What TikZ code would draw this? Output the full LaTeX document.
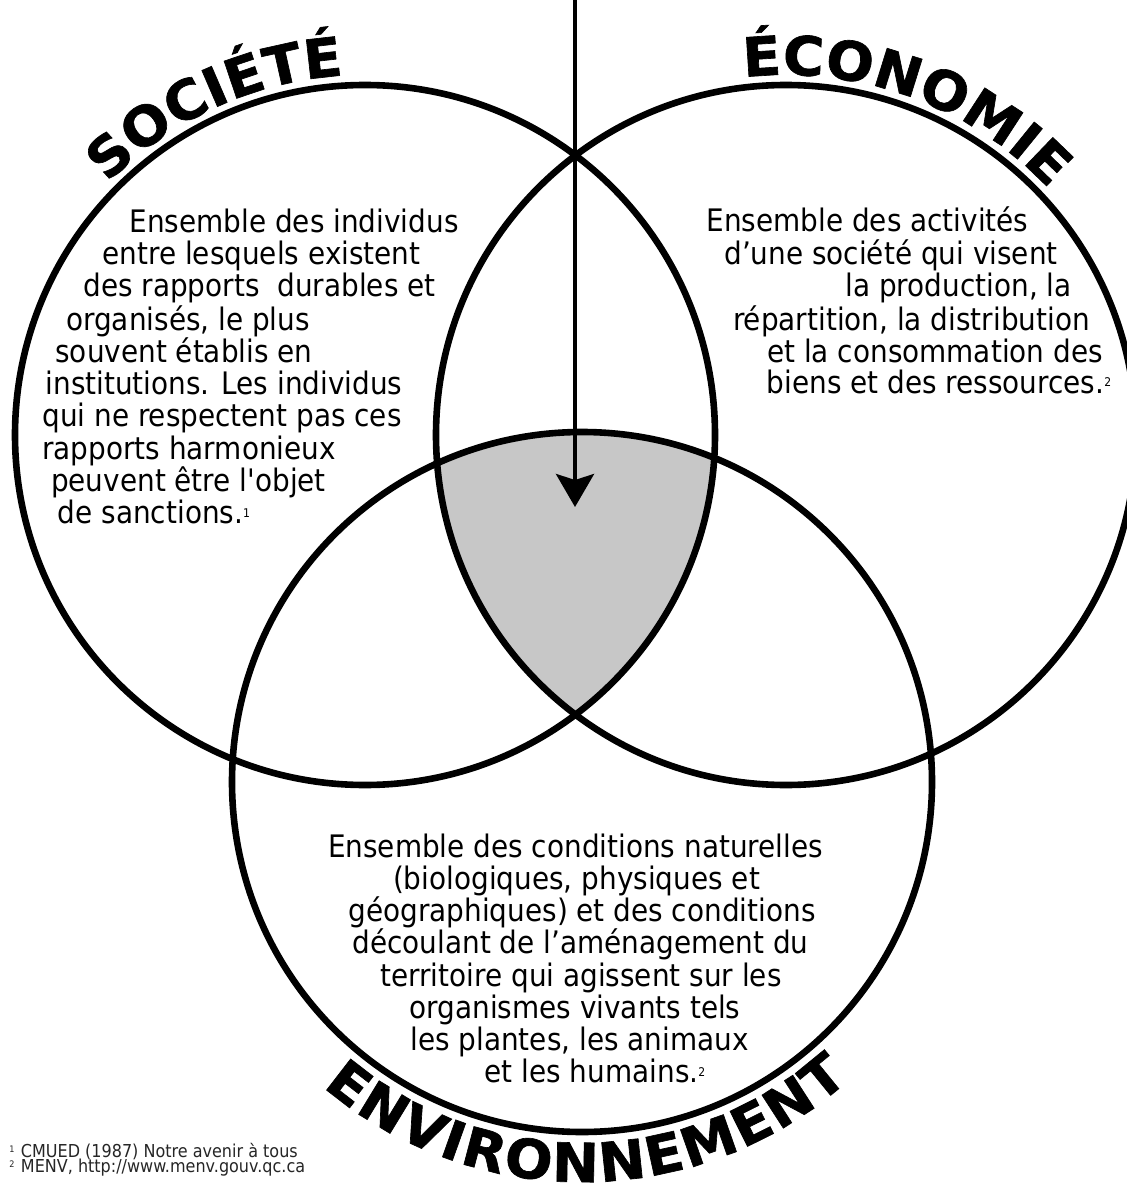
\documentclass[tikz,border=0pt]{standalone}
\usepackage{fontspec}
\usetikzlibrary{decorations.text,arrows.meta,calc}
\newfontfamily\bodyf[FakeStretch=0.9]{DejaVu Sans}
\newfontfamily\titf[FakeStretch=1.04, BoldFeatures={FakeBold=1.2}]{DejaVu Sans}
\definecolor{shadegray}{RGB}{199,199,199}
\newcommand\fnmark[1]{\raisebox{3pt}{\fontsize{6}{6}\selectfont #1}}
\newcommand\fnmarkS[1]{\raisebox{2.5pt}{\fontsize{4.5}{4.5}\selectfont #1}}
\begin{document}
\begin{tikzpicture}[x=0.5pt,y=0.5pt,
  ring/.style={draw=black, line width=3.3pt},
  body/.style={font=\bodyf\fontsize{15.5}{16}\selectfont, inner sep=0pt, anchor=base, text=black},
  foot/.style={font=\bodyf\fontsize{8.9}{9}\selectfont, inner sep=0pt, anchor=base west, text=black!85}
]
\useasboundingbox (0,0) rectangle (1127,-1187);
\fill[white] (0,0) rectangle (1127,-1187);

\coordinate (L) at (365,-435);
\coordinate (R) at (786,-435);
\coordinate (B) at (582,-782);
\coordinate (top) at (575,0);
\coordinate (tip) at (575,-507);

% shaded common region
\begin{scope}
  \clip (L) circle[radius=175pt];
  \clip (R) circle[radius=175pt];
  \fill[shadegray] (B) circle[radius=175pt];
\end{scope}

% circles
\draw[ring] (L) circle[radius=175pt];
\draw[ring] (R) circle[radius=175pt];
\draw[ring] (B) circle[radius=175pt];

% arrow
\draw[line width=2pt, -{Stealth[length=16.5pt,width=19pt,inset=3pt]}] (top) -- (tip);

% titles along arcs
\path[decorate, decoration={text along path, text align={center},
  text={|\titf\bfseries\fontsize{27}{27}\selectfont|SOCIÉTÉ}}]
  ($(L)+(154.5:180pt)$) arc[start angle=154.5, end angle=74.5, radius=180pt];
\path[decorate, decoration={text along path, text align={center},
  text={|\titf\bfseries\fontsize{27}{27}\selectfont|ÉCONOMIE}}]
  ($(R)+(114.9:180pt)$) arc[start angle=114.9, end angle=24.9, radius=180pt];
\path[decorate, decoration={text along path, text align={fit to path},
  text={|\titf\bfseries\fontsize{27}{27}\selectfont|ENVIRONNEMENT}}]
  ($(B)+(-130.4:200pt)$) arc[start angle=-130.4, end angle=-48.1, radius=200pt];

% Societe text
\node[body] (s1) at (294,-233) {Ensemble des individus};
\node[body] (s2) at (261.5,-265) {entre lesquels existent};
\node[body] (s3) at (259.5,-297) {des rapports~~durables et};
\node[body] (s4) at (188,-330) {organisés, le plus};
\node[body] (s5) at (184,-362) {souvent établis en};
\node[body] (s6) at (224,-394) {institutions. Les individus};
\node[body] (s7) at (222,-426) {qui ne respectent pas ces};
\node[body] (s8) at (189,-459) {rapports harmonieux};
\node[body] (s9) at (188.5,-491) {peuvent être l'objet};
\node[body] (s10) at (154,-523) {de sanctions.\fnmark{1}};

% Economie text
\node[body] (e1) at (867.5,-232) {Ensemble des activités};
\node[body] (e2) at (891,-265) {d’une société qui visent};
\node[body] (e3) at (958.5,-297) {la production, la};
\node[body] (e4) at (911.5,-330) {répartition, la distribution};
\node[body] (e5) at (935,-362) {et la consommation des};
\node[body] (e6) at (939,-393) {biens et des ressources.\fnmark{2}};

% Environnement text
\node[body] (n1) at (575.5,-857) {Ensemble des conditions naturelles};
\node[body] (n2) at (576.5,-889) {(biologiques, physiques et};
\node[body] (n3) at (582,-921) {géographiques) et des conditions};
\node[body] (n4) at (580.5,-953) {découlant de l’aménagement du};
\node[body] (n5) at (581,-986) {territoire qui agissent sur les};
\node[body] (n6) at (575,-1018) {organismes vivants tels};
\node[body] (n7) at (579.5,-1050) {les plantes, les animaux};
\node[body] (n8) at (595,-1082) {et les humains.\fnmark{2}};

% footnotes
\node[foot] (f1) at (9,-1157) {\fnmarkS{1}\hspace{3.2pt}CMUED (1987) Notre avenir à tous};
\node[foot] (f2) at (9,-1172) {\fnmarkS{2}\hspace{3.2pt}MENV, http://www.menv.gouv.qc.ca};
\end{tikzpicture}
\end{document}
